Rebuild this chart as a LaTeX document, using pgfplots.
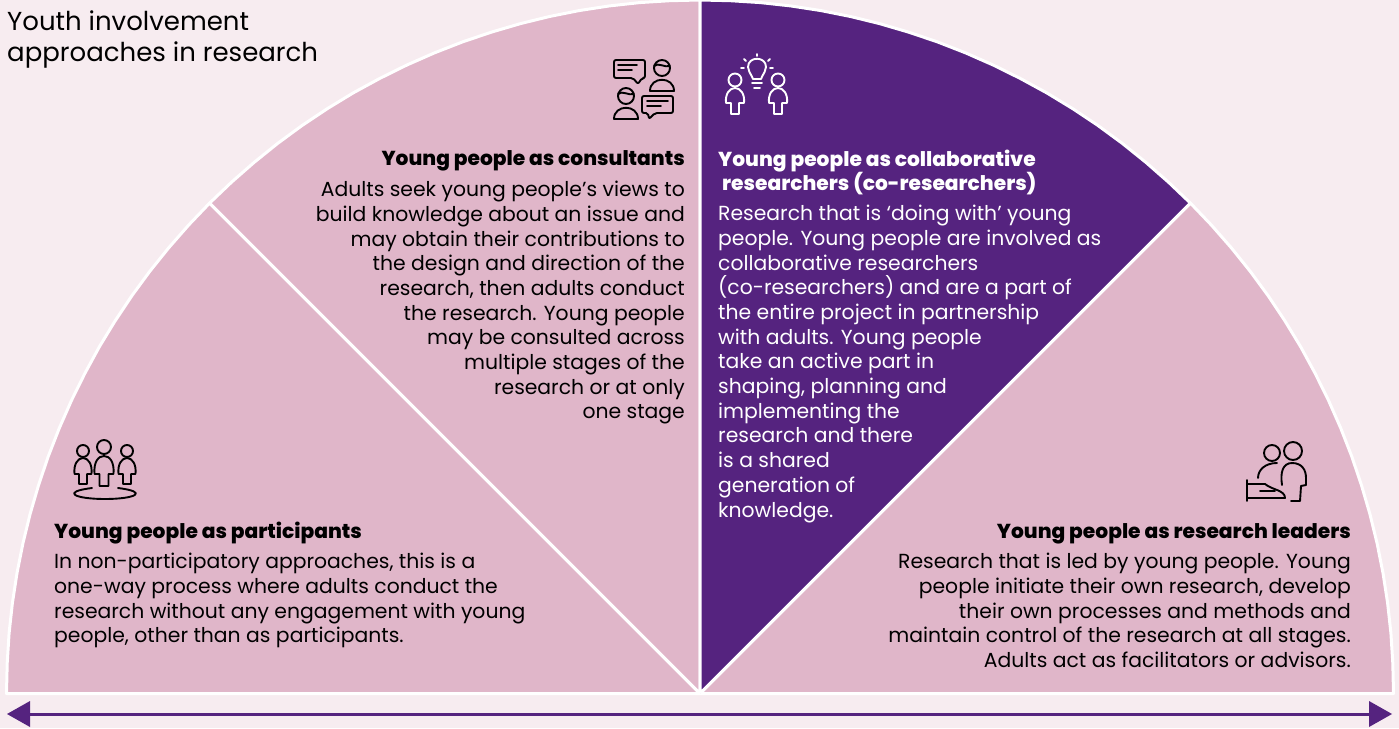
\documentclass[border=0pt]{standalone}
\usepackage{fontspec}
\setmainfont{Poppins}
\newfontfamily\headfam{Poppins ExtraBold}
\usepackage{pgfplots}
\pgfplotsset{compat=1.18}
\definecolor{bgc}{HTML}{F7ECF0}
\definecolor{pinkc}{HTML}{E0B6C9}
\definecolor{purp}{HTML}{55237F}
\newcommand\bodyf{\fontsize{20.35}{24.7}\selectfont}
\newcommand\headf{\headfam\fontsize{20.2}{24.7}\selectfont}
% person outline: cx, top, bottom, half width, half leg width, arm height
\newcommand\person[6]{%
  \draw ({#1-#5},#3) -- ({#1-#5},#6) -- ({#1-#4},#6)
    .. controls ({#1-#4-1},{#2+6}) and ({#1-#4*.6},#2) .. (#1,#2)
    .. controls ({#1+#4*.6},#2) and ({#1+#4+1},{#2+6}) .. ({#1+#4},#6)
    -- ({#1+#5},#6) -- ({#1+#5},#3) -- cycle;}
\begin{document}
\begin{tikzpicture}
\begin{axis}[
  scale only axis, width=1399pt, height=728pt,
  xmin=0, xmax=1399, ymin=0, ymax=728, y dir=reverse,
  axis lines=none, clip=true]
\addplot[fill=bgc, draw=none] coordinates {(0,0) (1399,0) (1399,728) (0,728)};
% sectors
\addplot[fill=pinkc, draw=white, line width=3pt, line join=round] coordinates {
  (700,693.5) (6.5,693.5) (7.2,663.2) (9.1,633.1) (12.4,603.0) (17.0,573.1) (22.9,543.4)
  (30.1,514.0) (38.6,485.0) (48.3,456.3) (59.3,428.1) (71.5,400.4) (84.9,373.3) (99.4,346.7)
  (115.1,320.9) (131.9,295.7) (149.8,271.3) (168.8,247.7) (188.7,225.0) (209.6,203.1) (700,693.5)};
\addplot[fill=pinkc, draw=white, line width=3pt, line join=round] coordinates {
  (700,693.5) (209.6,203.1) (231.5,182.2) (254.2,162.3) (277.8,143.3) (302.2,125.4) (327.4,108.6)
  (353.2,92.9) (379.8,78.4) (406.9,65.0) (434.6,52.8) (462.8,41.8) (491.5,32.1) (520.5,23.6)
  (549.9,16.4) (579.6,10.5) (609.5,5.9) (639.6,2.6) (669.7,0.7) (700,0) (700,693.5)};
\addplot[fill=pinkc, draw=white, line width=3pt, line join=round] coordinates {
  (700,693.5) (1190.4,203.1) (1211.3,225.0) (1231.2,247.7) (1250.2,271.3) (1268.1,295.7) (1284.9,320.9)
  (1300.6,346.7) (1315.1,373.3) (1328.5,400.4) (1340.7,428.1) (1351.7,456.3) (1361.4,485.0) (1369.9,514.0)
  (1377.1,543.4) (1383.0,573.1) (1387.6,603.0) (1390.9,633.1) (1392.8,663.2) (1393.5,693.5) (700,693.5)};
\addplot[fill=purp, draw=white, line width=3pt, line join=round] coordinates {
  (700,693.5) (700,0) (730.3,0.7) (760.4,2.6) (790.5,5.9) (820.4,10.5) (850.1,16.4) (879.5,23.6)
  (908.5,32.1) (937.2,41.8) (965.4,52.8) (993.1,65.0) (1020.2,78.4) (1046.8,92.9) (1072.6,108.6)
  (1097.8,125.4) (1122.2,143.3) (1145.8,162.3) (1168.5,182.2) (1190.4,203.1) (700,693.5)};
% arrow
\addplot[draw=purp, line width=3pt] coordinates {(28,714) (1371,714)};
\addplot[fill=purp, draw=none] coordinates {(7,714) (30,701) (30,727) (7,714)};
\addplot[fill=purp, draw=none] coordinates {(1392,714) (1369,701) (1369,727) (1392,714)};
% text
\node[anchor=north west, inner sep=0pt, align=left, font=\fontsize{26}{31}\selectfont, text=black] at (axis cs:7,11)
  {Youth involvement\\approaches in research};
\node[anchor=north east, inner sep=0pt, align=right, font=\headf] at (axis cs:685,150.5) {Young people as consultants};
\node[anchor=north east, inner sep=0pt, align=right, font=\bodyf] at (axis cs:685,181)
  {Adults seek young people’s views to\\build knowledge about an issue and\\may obtain their contributions to\\the design and direction of the\\research, then adults conduct\\the research. Young people\\may be consulted across\\multiple stages of the\\research or at only\\one stage};
\node[anchor=north west, inner sep=0pt, align=left, font=\headf, text=white] at (axis cs:718,149.5)
  {Young people as collaborative\\\hspace*{4pt}researchers (co-researchers)};
\node[anchor=north west, inner sep=0pt, align=left, font=\bodyf, text=white] at (axis cs:718,205)
  {Research that is ‘doing with’ young\\people. Young people are involved as\\collaborative researchers\\(co-researchers) and are a part of\\the entire project in partnership\\with adults. Young people\\take an active part in\\shaping, planning and\\implementing the\\research and there\\is a shared\\generation of\\knowledge.};
\node[anchor=north west, inner sep=0pt, align=left, font=\headf] at (axis cs:54,522) {Young people as participants};
\node[anchor=north west, inner sep=0pt, align=left, font=\bodyf] at (axis cs:54,553)
  {In non-participatory approaches, this is a\\one-way process where adults conduct the\\research without any engagement with young\\people, other than as participants.};
\node[anchor=north east, inner sep=0pt, align=right, font=\headf] at (axis cs:1351,523) {Young people as research leaders};
\node[anchor=north east, inner sep=0pt, align=right, font=\bodyf] at (axis cs:1351,553)
  {Research that is led by young people. Young\\people initiate their own research, develop\\their own processes and methods and\\maintain control of the research at all stages.\\Adults act as facilitators or advisors.};
% icons, in picture pixels
\begin{scope}[shift={(axis cs:0,0)}, x=1pt, y=-1pt, line width=1.9pt, line cap=round, line join=round]
  % consultants
  \draw[rounded corners=2pt] (614,60) -- (645,60) -- (645,78) -- (642,78) -- (638,84) -- (633,78) -- (614,78) -- cycle;
  \draw (618,65) -- (637,65) (618,70) -- (632,70);
  \draw (662,68) circle (8);
  \draw (654,66) .. controls (658,62) and (665,68) .. (670,66);
  \draw (650,91) .. controls (650,76) and (674,76) .. (674,91) -- cycle;
  \draw (626,96) circle (8);
  \draw (618,94) .. controls (622,90) and (629,96) .. (634,94);
  \draw (614,119) .. controls (614,104) and (638,104) .. (638,119) -- cycle;
  \draw[rounded corners=2pt] (642,96) -- (673,96) -- (673,113) -- (655,113) -- (649,119) -- (648,113) -- (642,113) -- cycle;
  \draw (647,101) -- (668,101) (647,106) -- (661,106);
  % co-researchers
  \begin{scope}[draw=white]
    \draw (735,80) circle (6.5);
    \draw (778,80) circle (6.5);
    \person{735}{88}{114}{9}{4}{103}
    \person{778}{88}{114}{9}{4}{103}
    \draw (753,79) .. controls (750,72) and (748,71) .. (748,67) .. controls (748,56) and (766,56) .. (766,67) .. controls (766,71) and (764,72) .. (761,79) -- cycle;
    \draw (752,83) -- (762,83) (754,88) -- (760,88);
    \draw (757,54) -- (757,56) (744,59) -- (746,61) (770,59) -- (768,61) (741,68) -- (744,68) (770,68) -- (773,68);
  \end{scope}
  % participants
  \draw (104,447) circle (7);
  \draw (83,451) circle (6);
  \draw (127,451) circle (6);
  \person{104}{456}{486}{9.5}{4.5}{474}
  \person{83}{458}{484}{8.5}{4}{474}
  \person{127}{458}{484}{8.5}{4}{474}
  \draw (92,488) .. controls (60,492) and (75,499) .. (105,499) .. controls (135,499) and (150,492) .. (118,488);
  % research leaders
  \draw (1272,453) circle (8);
  \draw (1293,451) circle (9);
  \draw (1258,478) .. controls (1258,470) and (1265,463) .. (1277,463);
  \draw (1282,485) .. controls (1280,472) and (1283,463) .. (1292,463) .. controls (1302,463) and (1306,470) .. (1306,478) -- (1306,485) -- (1301,486) -- (1300,501) -- (1291,501);
  \draw (1247,480) -- (1247,501);
  \draw (1247,484) -- (1265,484) .. controls (1272,490) and (1285,490) .. (1285,498) -- (1247,498);
  \draw (1260,491) -- (1275,491);
\end{scope}
\end{axis}
\end{tikzpicture}
\end{document}
